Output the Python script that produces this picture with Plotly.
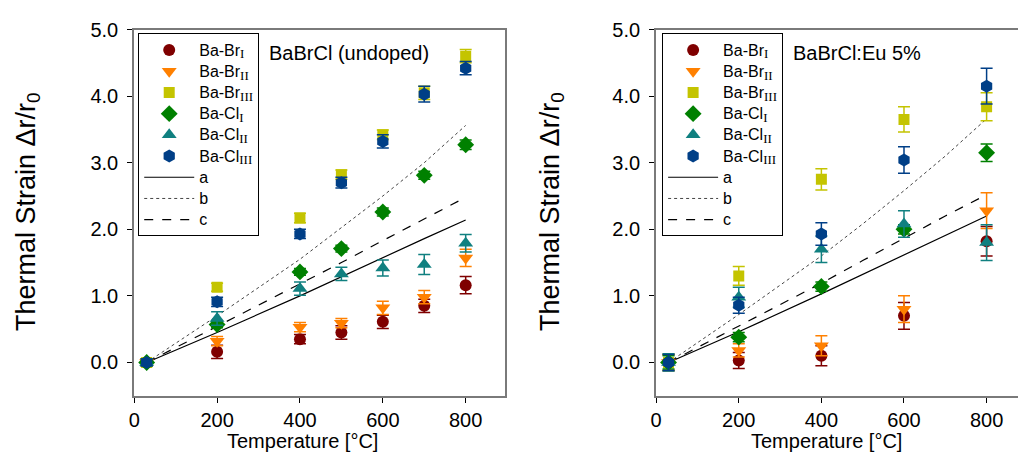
import plotly.graph_objects as go

# ---------------- data ----------------
T_left = [30, 200, 400, 500, 600, 700, 800]
left_BrI = [0.0, 0.16, 0.35, 0.45, 0.61, 0.85, 1.16]
left_BrI_err = [0.05, 0.10, 0.07, 0.10, 0.10, 0.10, 0.13]
left_BrII = [0.0, 0.32, 0.53, 0.59, 0.82, 0.98, 1.57]
left_BrII_err = [0.05, 0.07, 0.07, 0.07, 0.10, 0.10, 0.13]
left_BrIII = [0.0, 1.13, 2.17, 2.82, 3.42, 4.05, 4.60]
left_BrIII_err = [0.05, 0.06, 0.07, 0.07, 0.07, 0.10, 0.10]
left_ClI = [0.0, 0.57, 1.36, 1.71, 2.26, 2.81, 3.27]
left_ClI_err = [0.05, 0.05, 0.05, 0.05, 0.06, 0.06, 0.07]
left_ClII = [0.0, 0.66, 1.11, 1.33, 1.42, 1.47, 1.79]
left_ClII_err = [0.05, 0.10, 0.10, 0.10, 0.12, 0.15, 0.13]
left_ClIII = [0.0, 0.91, 1.93, 2.70, 3.32, 4.03, 4.42]
left_ClIII_err = [0.05, 0.07, 0.07, 0.08, 0.10, 0.12, 0.10]

T_right = [30, 200, 400, 600, 800]
right_BrI = [0.0, 0.03, 0.10, 0.70, 1.82]
right_BrI_err = [0.12, 0.12, 0.15, 0.20, 0.22]
right_BrII = [0.0, 0.18, 0.25, 0.80, 2.28]
right_BrII_err = [0.12, 0.10, 0.15, 0.20, 0.27]
right_BrIII = [0.0, 1.30, 2.75, 3.65, 3.84]
right_BrIII_err = [0.12, 0.14, 0.16, 0.19, 0.21]
right_ClI = [0.0, 0.38, 1.14, 2.00, 3.15]
right_ClI_err = [0.10, 0.07, 0.07, 0.07, 0.13]
right_ClII = [0.0, 0.98, 1.70, 2.08, 1.80]
right_ClII_err = [0.13, 0.15, 0.20, 0.20, 0.27]
right_ClIII = [0.0, 0.86, 1.93, 3.04, 4.15]
right_ClIII_err = [0.12, 0.12, 0.17, 0.20, 0.27]

T_model = [30, 200, 400, 500, 600, 700, 800]
left_a = [0.0, 0.45, 1.00, 1.29, 1.58, 1.86, 2.14]
left_b = [0.0, 0.70, 1.55, 2.02, 2.50, 3.00, 3.56]
left_c = [0.0, 0.54, 1.17, 1.50, 1.83, 2.15, 2.48]
right_a = [0.0, 0.46, 1.03, 1.32, 1.62, 1.91, 2.20]
right_b = [0.0, 0.72, 1.60, 2.08, 2.58, 3.10, 3.66]
right_c = [0.0, 0.55, 1.19, 1.53, 1.87, 2.20, 2.52]

x_ticks = [0, 200, 400, 600, 800]
y_ticks = [0, 1, 2, 3, 4, 5]

titles = ["BaBrCl (undoped)", "BaBrCl:Eu 5%"]

# ---------------- style ----------------
SANS = "Liberation Sans, Arial, sans-serif"
SERIF = "Liberation Serif"

def name_with_sub(base, s):
    return ("<span style='font-size:16px'>%s</span>"
            "<sub><span style='font-family:%s;font-size:13px'>%s</span></sub>") % (base, SERIF, s)

series_style = [
    (name_with_sub("Ba-Br", "I"), "circle", "#7f0000", 12),
    (name_with_sub("Ba-Br", "II"), "triangle-down", "#ff8000", 13),
    (name_with_sub("Ba-Br", "III"), "square", "#c4c400", 11),
    (name_with_sub("Ba-Cl", "I"), "diamond", "#008000", 13),
    (name_with_sub("Ba-Cl", "II"), "triangle-up", "#108080", 13),
    (name_with_sub("Ba-Cl", "III"), "hexagon", "#003f87", 13),
]

line_style = [("a", "solid", "black", 1.2), ("b", "dot", "#444444", 1.0), ("c", "dash", "black", 1.2)]

fig = go.Figure()

panels = [
    (T_left, [(left_BrI, left_BrI_err), (left_BrII, left_BrII_err), (left_BrIII, left_BrIII_err),
              (left_ClI, left_ClI_err), (left_ClII, left_ClII_err), (left_ClIII, left_ClIII_err)],
     [left_a, left_b, left_c], "x", "y", "legend"),
    (T_right, [(right_BrI, right_BrI_err), (right_BrII, right_BrII_err), (right_BrIII, right_BrIII_err),
               (right_ClI, right_ClI_err), (right_ClII, right_ClII_err), (right_ClIII, right_ClIII_err)],
     [right_a, right_b, right_c], "x2", "y2", "legend2"),
]

for T, series, models, xa, ya, lg in panels:
    for (name, dash, lc, lw), vals in zip(line_style, models):
        fig.add_trace(go.Scatter(
            x=T_model, y=vals, mode="lines",
            name="<span style='font-size:16px'>%s</span>" % name,
            line=dict(color=lc, width=lw, dash=dash),
            xaxis=xa, yaxis=ya, legend=lg, legendrank=1000,
        ))
    for i, ((name, sym, col, sz), (vals, errs)) in enumerate(zip(series_style, series)):
        fig.add_trace(go.Scatter(
            x=T, y=vals, mode="markers", name=name,
            marker=dict(symbol=sym, color=col, size=sz, line=dict(width=0)),
            error_y=dict(type="data", array=errs, visible=True, color=col,
                         thickness=1.5, width=6),
            xaxis=xa, yaxis=ya, legend=lg, legendrank=i + 1,
        ))

W, H = 1018, 468
def px(x):
    return x / W
def py(y):
    return 1 - y / H

axis_common = dict(
    showline=True, linecolor="#7a7a7a", linewidth=2,
    ticks="outside", ticklen=5, tickwidth=1, tickcolor="black",
    showgrid=False, zeroline=False,
    tickfont=dict(family=SANS, size=20, color="black"),
)

legend_common = dict(
    bgcolor="white", bordercolor="black", borderwidth=1,
    font=dict(family=SANS, size=14, color="black"),
    xanchor="left", yanchor="top", tracegroupgap=0,
    itemwidth=50, traceorder="normal",
)

fig.update_layout(
    width=W, height=H,
    margin=dict(l=0, r=0, t=0, b=0),
    paper_bgcolor="white", plot_bgcolor="white",
    showlegend=True,
    xaxis=dict(domain=[px(129), px(502)], range=[0, 895], tickvals=x_ticks,
               mirror=True, anchor="y", **axis_common),
    yaxis=dict(domain=[py(394), py(19)], range=[-0.5, 5.0], tickvals=y_ticks,
               tickformat=".1f", ticksuffix=" %", mirror=True, anchor="x",
               ticklabelstandoff=5, **axis_common),
    xaxis2=dict(domain=[px(654), 1.0], range=[0, 876], tickvals=x_ticks,
                mirror=True, anchor="y2", **axis_common),
    yaxis2=dict(domain=[py(394), py(19)], range=[-0.5, 5.0], tickvals=y_ticks,
                tickformat=".1f", ticksuffix=" %", mirror=False, anchor="x2",
                ticklabelstandoff=5, **axis_common),
    legend=dict(x=px(133), y=py(23), **legend_common),
    legend2=dict(x=px(660), y=py(23), **legend_common),
)

annotations = []
for cx in [298, 825]:
    annotations.append(dict(text="Temperature [°C]", x=px(cx), y=py(440), xref="paper", yref="paper",
                            xanchor="center", yanchor="middle", showarrow=False,
                            font=dict(family=SANS, size=20, color="black")))
for lx in [22, 549]:
    annotations.append(dict(text="Thermal Strain Δr/r<sub>0</sub>", x=px(lx), y=py(205),
                            xref="paper", yref="paper", xanchor="center", yanchor="middle",
                            textangle=-90, showarrow=False,
                            font=dict(family=SANS, size=27, color="black")))
for t, tx in zip(titles, [263, 790]):
    annotations.append(dict(text=t, x=px(tx), y=py(43), xref="paper", yref="paper",
                            xanchor="left", yanchor="middle", showarrow=False,
                            font=dict(family=SANS, size=20, color="black")))
fig.update_layout(annotations=annotations)

fig.write_html("out.html")
